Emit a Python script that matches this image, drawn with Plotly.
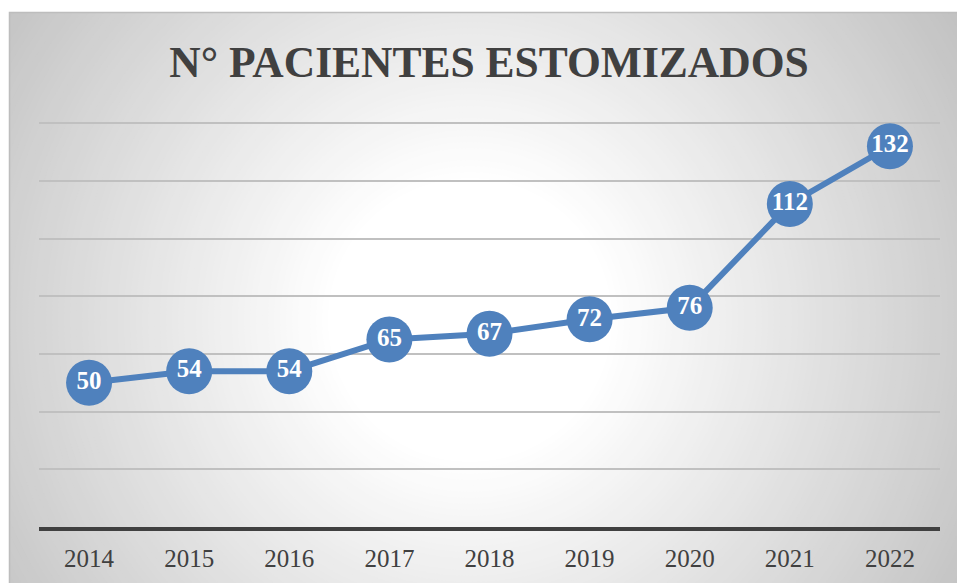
import plotly.graph_objects as go

years = ["2014", "2015", "2016", "2017", "2018", "2019", "2020", "2021", "2022"]
patients = [50, 54, 54, 65, 67, 72, 76, 112, 132]
title_text = "N° PACIENTES ESTOMIZADOS"

W, H = 957, 583
ML, MR, MT, MB = 39, 17, 122, 56
PW, PH = W - ML - MR, H - MT - MB

def px_to_paper(x, y):
    return (x - ML) / PW, (H - MB - y) / PH

shapes = []
# radial gradient background made of concentric circles (styling only)
cx, cy = 470, 320
r = 640
while r >= 120:
    g = 255 - max(0.0, (r - 140) * 0.14)
    g = int(round(max(180, min(255, g))))
    col = f"rgb({g},{g},{g})"
    x0, y0 = px_to_paper(cx - r, cy + r)
    x1, y1 = px_to_paper(cx + r, cy - r)
    shapes.append(dict(type="circle", xref="paper", yref="paper", x0=x0, y0=y0, x1=x1, y1=y1,
                       fillcolor=col, line=dict(width=0), layer="below"))
    r -= 6
# white outside of the chart frame
for (a, b, c, d) in [(-10, -10, 9, H + 10), (-10, -10, W + 10, 12)]:
    x0, y0 = px_to_paper(a, d)
    x1, y1 = px_to_paper(c, b)
    shapes.append(dict(type="rect", xref="paper", yref="paper", x0=x0, y0=y0, x1=x1, y1=y1,
                       fillcolor="white", line=dict(width=0), layer="below"))
# frame border
x0, y0 = px_to_paper(9.5, H + 5)
x1, y1 = px_to_paper(W + 5, 12.5)
shapes.append(dict(type="rect", xref="paper", yref="paper", x0=x0, y0=y0, x1=x1, y1=y1,
                   fillcolor="rgba(0,0,0,0)", line=dict(width=1.5, color="#bdbdbd"), layer="below"))

fig = go.Figure()
fig.add_trace(go.Scatter(
    x=years, y=patients, mode="lines+markers+text",
    line=dict(color="#4f81bd", width=6),
    marker=dict(size=46, color="#4f81bd", line=dict(width=0)),
    text=[str(v) for v in patients], textposition="middle center",
    textfont=dict(family="Liberation Serif", size=25, color="white", weight="bold"),
    cliponaxis=False, hoverinfo="skip"))

fig.update_layout(
    width=W, height=H,
    margin=dict(l=ML, r=MR, t=MT, b=MB),
    paper_bgcolor="white", plot_bgcolor="rgba(0,0,0,0)",
    showlegend=False,
    shapes=shapes,
    title=dict(text=f"<b>{title_text}</b>", x=(489) / W, xanchor="center",
               y=1 - 62 / H, yanchor="middle",
               font=dict(family="Liberation Serif", size=43.5, color="#404040")),
    xaxis=dict(type="category", showgrid=False, showline=True, linecolor="#404040", linewidth=4,
               ticks="", tickfont=dict(family="Liberation Serif", size=25, color="#404040"),
               ticklabelstandoff=6, range=[-0.5, 8.5], zeroline=False),
    yaxis=dict(range=[0, 140.4], tickvals=[20, 40, 60, 80, 100, 120, 140], showticklabels=False,
               showgrid=True, gridcolor="#c0c0c0", gridwidth=1.5, zeroline=False, showline=False, ticks=""),
)

fig.write_html("out.html", config={"displayModeBar": False},
               post_script="document.body.style.margin='0';document.body.style.overflow='hidden';")
